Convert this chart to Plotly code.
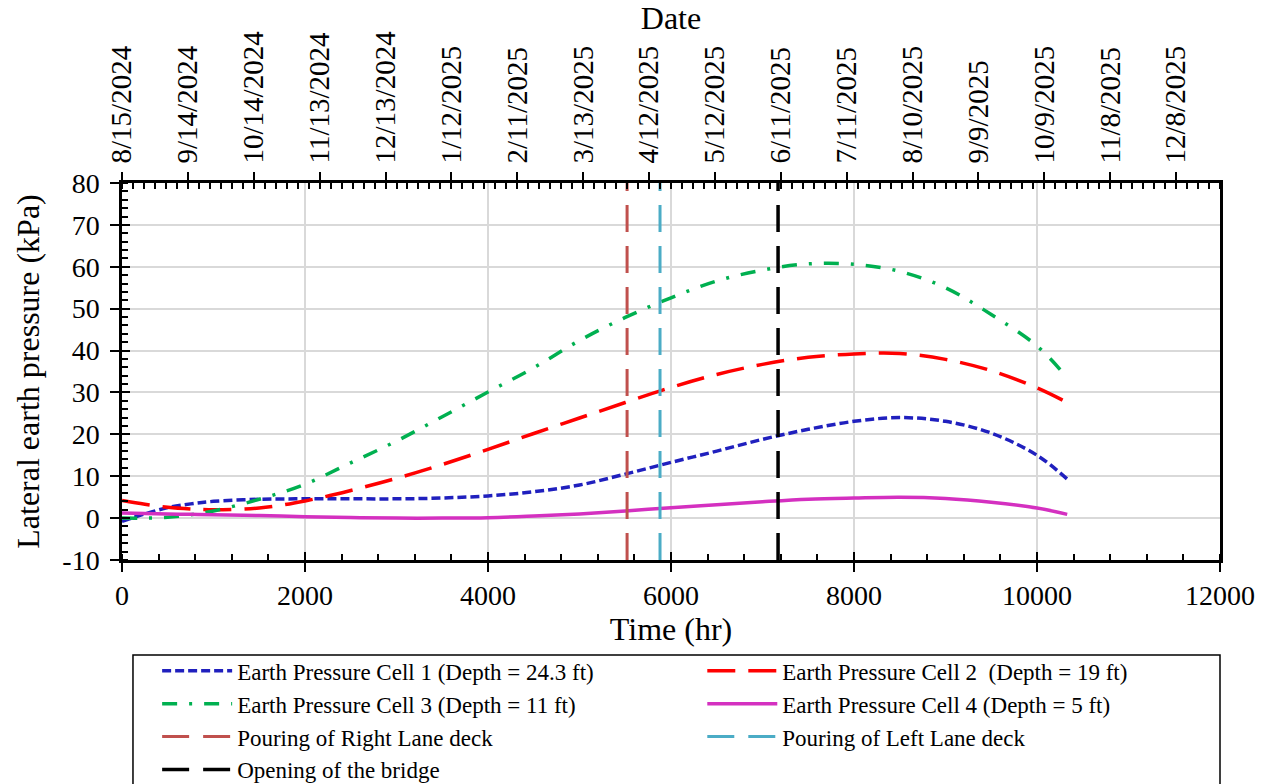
import pandas as pd
import plotly.graph_objects as go

# Elapsed time since start of monitoring (hr)
time_hr = [0, 250, 500, 750, 1000, 1500, 2000, 2500, 3000, 3500, 4000, 4500,
           5000, 5500, 6000, 6500, 7000, 7500, 8000, 8500, 9000, 9500, 10000, 10330]

# Lateral earth pressure readings (kPa)
cell1 = [-0.8, 1.0, 2.5, 3.4, 4.0, 4.5, 4.6, 4.6, 4.6, 4.8, 5.3, 6.3,
         7.9, 10.5, 13.3, 16.0, 18.8, 21.2, 23.1, 24.0, 23.1, 20.3, 15.0, 9.3]
cell2 = [4.2, 3.3, 2.6, 2.2, 2.0, 2.4, 4.1, 6.6, 9.5, 12.8, 16.4, 20.2,
         23.9, 27.6, 31.2, 34.3, 36.7, 38.4, 39.2, 39.3, 37.9, 35.2, 31.1, 27.6]
cell3 = [0.0, 0.0, 0.2, 0.8, 1.7, 4.5, 8.1, 13.2, 18.4, 24.2, 30.1, 35.9,
         42.4, 47.9, 52.6, 56.6, 59.2, 60.7, 60.6, 58.9, 55.0, 48.6, 41.1, 33.5]
cell4 = [1.2, 1.1, 1.0, 0.9, 0.8, 0.6, 0.35, 0.15, 0.0, 0.0, 0.1, 0.5,
         1.0, 1.7, 2.5, 3.2, 3.9, 4.5, 4.8, 5.0, 4.7, 3.8, 2.4, 0.9]

series_names = ["Earth Pressure Cell 1 (Depth = 24.3 ft)",
                "Earth Pressure Cell 2  (Depth = 19 ft)",
                "Earth Pressure Cell 3 (Depth = 11 ft)",
                "Earth Pressure Cell 4 (Depth = 5 ft)"]

# Construction milestones (hr)
event_names = ["Pouring of Right Lane deck", "Pouring of Left Lane deck",
               "Opening of the bridge"]
event_hr = [5520, 5880, 7170]

# Calendar labels for the top axis
start_date = "2024-08-15"
date_labels = ["8/15/2024", "9/14/2024", "10/14/2024", "11/13/2024", "12/13/2024",
               "1/12/2025", "2/11/2025", "3/13/2025", "4/12/2025", "5/12/2025",
               "6/11/2025", "7/11/2025", "8/10/2025", "9/9/2025", "10/9/2025",
               "11/8/2025", "12/8/2025"]

# Left-axis tick values
y_ticks = [-10, 0, 10, 20, 30, 40, 50, 60, 70, 80]

y_range = [-10, 80]
x_range = [0, 12000]

t0 = pd.Timestamp(start_date)
date_hr = [(pd.to_datetime(d, format="%m/%d/%Y") - t0) / pd.Timedelta(hours=1)
           for d in date_labels]

FONT = "Liberation Serif"


def f(size):
    return dict(family=FONT, size=size, color="black")


fig = go.Figure()

# Legend entries are split into two columns: left column -> "legend",
# right column -> "legend2"
styles = [
    dict(color="#2020BE", dash="9px,4px", legend="legend"),
    dict(color="#FF0000", dash="28px,13px", legend="legend2"),
    dict(color="#00B050", dash="15px,12px,3px,12px", legend="legend"),
    dict(color="#D430C0", dash="solid", legend="legend2"),
]
for name, vals, st in zip(series_names, [cell1, cell2, cell3, cell4], styles):
    fig.add_trace(go.Scatter(
        x=time_hr, y=vals, name=name, mode="lines", legend=st["legend"],
        line=dict(color=st["color"], dash=st["dash"], width=3.5, shape="spline",
                  smoothing=1.0),
    ))

event_styles = [dict(color="#C0504D", width=3, legend="legend"),
                dict(color="#4BACC6", width=3, legend="legend2"),
                dict(color="#000000", width=3.5, legend="legend")]
for name, t, st in zip(event_names, event_hr, event_styles):
    fig.add_trace(go.Scatter(
        x=[t, t], y=y_range, name=name, mode="lines", legend=st["legend"],
        line=dict(color=st["color"], width=st["width"], dash="27px,14px"),
    ))

# Empty traces so the auxiliary overlay axes get rendered
for xa, ya in [("x2", "y"), ("x3", "y"), ("x", "y2")]:
    fig.add_trace(go.Scatter(x=[None], y=[None], xaxis=xa, yaxis=ya,
                             showlegend=False, hoverinfo="skip"))

axis_line = dict(showline=True, linecolor="black", linewidth=2.5)
grid = dict(showgrid=True, gridcolor="#D9D9D9", gridwidth=1.5)

legend_common = dict(
    orientation="v", y=-0.237, yanchor="top", xanchor="left",
    borderwidth=0, bgcolor="rgba(0,0,0,0)", font=f(23),
    itemwidth=70, traceorder="normal",
)

fig.update_layout(
    width=1268, height=784, autosize=False,
    margin=dict(l=122, r=48, t=183, b=224, autoexpand=False),
    paper_bgcolor="white", plot_bgcolor="white",
    font=f(28),
    showlegend=True,
    legend=dict(x=0.032, **legend_common),
    legend2=dict(x=0.5285, **legend_common),
    # Frame around both legend columns
    shapes=[dict(type="rect", xref="paper", yref="paper",
                 x0=0.010, x1=1.0, y0=-0.70, y1=-0.252,
                 line=dict(color="black", width=1.5), fillcolor="rgba(0,0,0,0)")],
    xaxis=dict(
        range=x_range, dtick=2000, tick0=0, ticks="outside", ticklen=9,
        tickwidth=2, tickcolor="black", zeroline=False, mirror=True,
        tickfont=f(28), tickformat="d", automargin=False,
        title=dict(text="Time (hr)", font=f(32), standoff=6),
        minor=dict(dtick=400, ticks="inside", ticklen=6, tickwidth=2,
                   tickcolor="black", showgrid=False),
        **axis_line, **grid,
    ),
    xaxis3=dict(
        range=x_range, overlaying="x", side="bottom", anchor="y",
        tickmode="linear", dtick=2000, tick0=0, ticks="inside", ticklen=8,
        tickwidth=2, tickcolor="black", showticklabels=False,
        showgrid=False, zeroline=False,
    ),
    xaxis2=dict(
        range=x_range, overlaying="x", side="top", anchor="y",
        tickmode="array", tickvals=date_hr, ticktext=date_labels,
        tickangle=-90, ticks="outside", ticklen=8, tickwidth=2,
        tickcolor="black", tickfont=f(29), automargin=False,
        ticklabelstandoff=3,
        minor=dict(tickmode="linear", tick0=0, dtick=120, ticks="inside",
                   ticklen=6, tickwidth=2, tickcolor="black", showgrid=False),
        title=dict(text="Date", font=f(32), standoff=2),
        showgrid=False, zeroline=False, **axis_line,
    ),
    yaxis=dict(
        range=y_range, tickmode="array", tickvals=y_ticks,
        ticktext=[str(v) for v in y_ticks], ticks="outside", ticklen=9,
        tickwidth=2, tickcolor="black", zeroline=False, mirror=True,
        tickfont=f(28), automargin=False, ticklabelstandoff=5,
        title=dict(text="Lateral earth pressure (kPa)", font=f(32), standoff=14),
        minor=dict(tickmode="linear", tick0=0, dtick=2, ticks="inside",
                   ticklen=6, tickwidth=2, tickcolor="black", showgrid=False),
        **axis_line, **grid,
    ),
    yaxis2=dict(
        range=y_range, overlaying="y", side="left", anchor="x",
        tickmode="linear", dtick=10, tick0=0, ticks="inside", ticklen=8,
        tickwidth=2, tickcolor="black", showticklabels=False,
        showgrid=False, zeroline=False,
    ),
)

fig.write_html("out.html")
